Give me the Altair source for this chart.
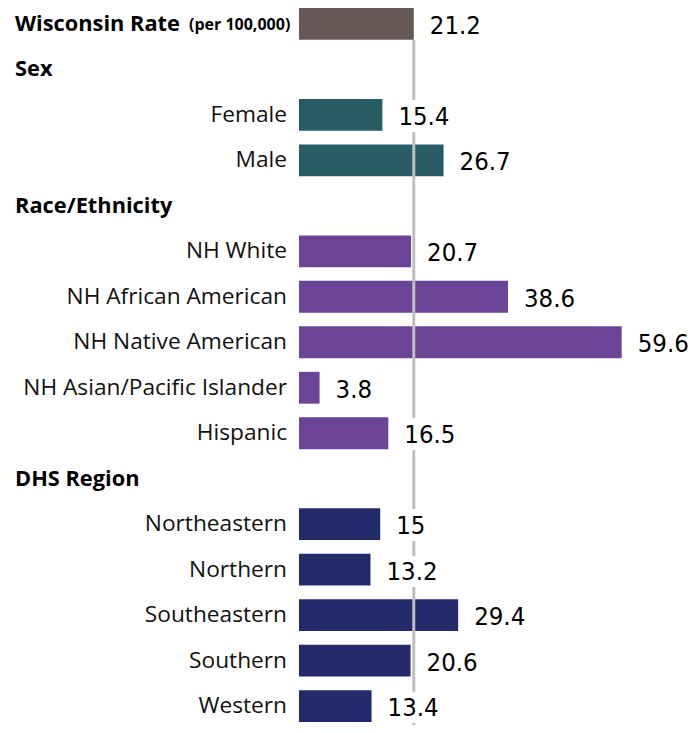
import altair as alt
import pandas as pd

labels = ["Wisconsin Rate", "Sex", "Female", "Male", "Race/Ethnicity", "NH White",
          "NH African American", "NH Native American", "NH Asian/Pacific Islander",
          "Hispanic", "DHS Region", "Northeastern", "Northern", "Southeastern",
          "Southern", "Western"]
values = [21.2, None, 15.4, 26.7, None, 20.7, 38.6, 59.6, 3.8, 16.5, None,
          15, 13.2, 29.4, 20.6, 13.4]
value_text = ["21.2", "", "15.4", "26.7", "", "20.7", "38.6", "59.6", "3.8", "16.5", "",
              "15", "13.2", "29.4", "20.6", "13.4"]
groups = ["State", "Header", "Sex", "Sex", "Header", "Race", "Race", "Race", "Race",
          "Race", "Header", "Region", "Region", "Region", "Region", "Region"]
group_names = ["State", "Sex", "Race", "Region"]
group_colors = ["#655856", "#285D66", "#6A4496", "#232A6A"]
state_rate = 21.2

df = pd.DataFrame({"label": labels, "value": values, "text": value_text, "group": groups})

y = alt.Y("label:N", sort=labels, axis=None,
          scale=alt.Scale(paddingInner=0.3, paddingOuter=0))
x_scale = alt.Scale(domain=[0, 70], nice=False, zero=True)

base = alt.Chart(df)

bars = base.transform_filter("datum.value != null").mark_bar().encode(
    x=alt.X("value:Q", scale=x_scale, axis=None),
    y=y,
    color=alt.Color("group:N", scale=alt.Scale(domain=group_names, range=group_colors),
                    legend=None),
)

rule = alt.Chart(pd.DataFrame({"rate": [state_rate]})).mark_rule(
    color="#BFBFBF", strokeWidth=3
).encode(
    x=alt.X("rate:Q", scale=x_scale),
    y=alt.value(32),
    y2=alt.value(717),
)

vals = base.transform_filter("datum.value != null")
val_bg = vals.mark_text(
    align="left", baseline="middle", dx=16, dy=2, font="DejaVu Sans Condensed, DejaVu Sans",
    fontSize=25.5, stroke="white", strokeWidth=14, fill="white"
).encode(x=alt.X("value:Q", scale=x_scale), y=y, text="text:N")
val_txt = vals.mark_text(
    align="left", baseline="middle", dx=16, dy=2, font="DejaVu Sans Condensed, DejaVu Sans",
    fontSize=25.5, color="black"
).encode(x=alt.X("value:Q", scale=x_scale), y=y, text="text:N")

cats = base.transform_filter("datum.group != 'Header' && datum.group != 'State'").mark_text(
    align="right", baseline="middle", font="Open Sans", fontSize=22.7, color="#111111"
).encode(x=alt.value(-12), y=y, text="label:N")

heads = base.transform_filter("datum.group == 'Header' || datum.group == 'State'").mark_text(
    align="left", baseline="middle", font="Open Sans", fontSize=21.8, fontWeight="bold",
    color="#000000"
).encode(x=alt.value(-284), y=y, text="label:N")

per = alt.Chart(pd.DataFrame({"label": ["Wisconsin Rate"], "note": ["(per 100,000)"]})).mark_text(
    align="left", baseline="middle", font="Open Sans", fontSize=16, fontWeight="bold",
    color="#000000", dy=1
).encode(x=alt.value(-110), y=y, text="note:N")

chart = alt.layer(bars, rule, val_bg, val_txt, cats, heads, per).properties(
    width=379, height=714,
    padding={"left": 291, "top": 0, "right": 10, "bottom": 3},
    autosize=alt.AutoSizeParams(type="none"),
).configure_view(stroke=None)

chart.save("out.html", embed_options={"renderer": "svg", "actions": False})
